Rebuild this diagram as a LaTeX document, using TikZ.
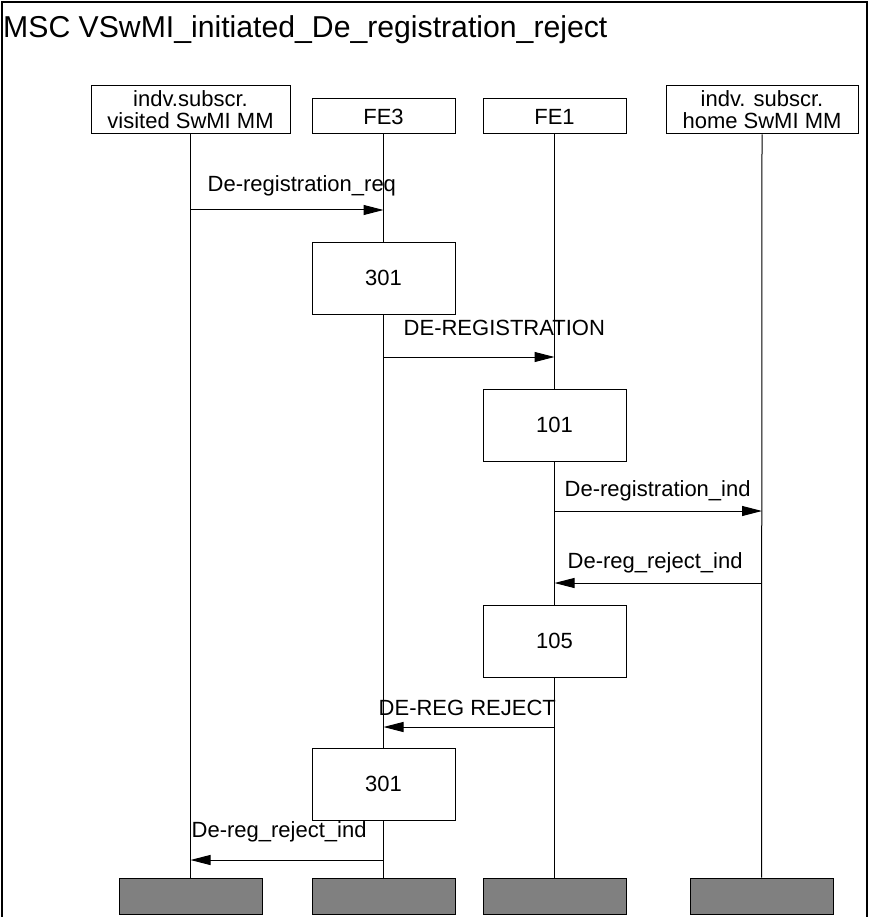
\documentclass[tikz,border=0pt]{standalone}
\usepackage{fontspec}
\setmainfont{Liberation Sans}
\usetikzlibrary{arrows.meta}
\definecolor{endgray}{RGB}{128,128,128}
\begin{document}
\begin{tikzpicture}[x=1pt,y=-1pt,
  txt/.style={font=\fontsize{22}{22}\selectfont},
  lbl/.style={txt, inner sep=0pt, anchor=base west},
  hdr/.style={draw, line width=1pt, fill=white, txt, align=center, inner sep=0pt},
  actbox/.style={draw, line width=1pt, fill=white, txt, inner sep=0pt, minimum width=143pt, minimum height=72pt},
  endbox/.style={draw, line width=1pt, fill=endgray, inner sep=0pt, minimum width=143pt, minimum height=36pt},
  life/.style={line width=1pt},
  msg/.style={line width=1pt, -{Triangle[length=20pt,width=10pt]}}]
\useasboundingbox (0,0) rectangle (869,917);
% frame
\draw[line width=1.8pt] (2,917) -- (2,2) -- (867,2) -- (867,917);
\node[font=\fontsize{30.2}{31}\selectfont, inner sep=0pt, anchor=base west] (title) at (3,38) {MSC VSwMI\_initiated\_De\_registration\_reject};
% headers
\node[hdr, minimum width=199pt, minimum height=48pt] (h1) at (190.5,110) {indv.subscr.\\visited SwMI MM};
\node[hdr, minimum width=143pt, minimum height=35pt] (h2) at (383.5,116.5) {FE3};
\node[hdr, minimum width=143pt, minimum height=35pt] (h3) at (554.5,116.5) {FE1};
\node[hdr, minimum width=192pt, minimum height=48pt] (h4) at (762,110) {indv. subscr.\\home SwMI MM};
% end boxes
\node[endbox] (e1) at (190.5,896) {};
\node[endbox] (e2) at (383.5,896) {};
\node[endbox] (e3) at (554.5,896) {};
\node[endbox] (e4) at (761.5,896) {};
% lifelines
\draw[life] (h1.south) -- (e1.north);
\draw[life] (h2.south) -- (e2.north);
\draw[life] (h3.south) -- (e3.north);
\draw[life] (h4.south) -- (e4.north);
% action boxes
\node[actbox] (a1) at (383.5,278) {301};
\node[actbox] (a2) at (554.5,425) {101};
\node[actbox] (a3) at (554.5,641) {105};
\node[actbox] (a4) at (383.5,784) {301};
% message points
\coordinate (m1s) at (190.5,210);
\coordinate (m1e) at (383.5,210);
\coordinate (m2s) at (383.5,357);
\coordinate (m2e) at (554.5,357);
\coordinate (m3s) at (554.5,511);
\coordinate (m3e) at (762,511);
\coordinate (m4s) at (762,583);
\coordinate (m4e) at (554.5,583);
\coordinate (m5s) at (554.5,727);
\coordinate (m5e) at (383.5,727);
\coordinate (m6s) at (383.5,860);
\coordinate (m6e) at (190.5,860);
\draw[msg] (m1s) -- (m1e);
\draw[msg] (m2s) -- (m2e);
\draw[msg] (m3s) -- (m3e);
\draw[msg] (m4s) -- (m4e);
\draw[msg] (m5s) -- (m5e);
\draw[msg] (m6s) -- (m6e);
% labels
\node[lbl] (l1) at (207.5,191.5) {De-registration\_req};
\node[lbl] (l2) at (403.5,335) {DE-REGISTRATION};
\node[lbl] (l3) at (564.5,496.5) {De-registration\_ind};
\node[lbl] (l4) at (567.5,568.5) {De-reg\_reject\_ind};
\node[lbl] (l5) at (378.5,715) {DE-REG REJECT};
\node[lbl] (l6) at (191.5,837.5) {De-reg\_reject\_ind};
\end{tikzpicture}
\end{document}
